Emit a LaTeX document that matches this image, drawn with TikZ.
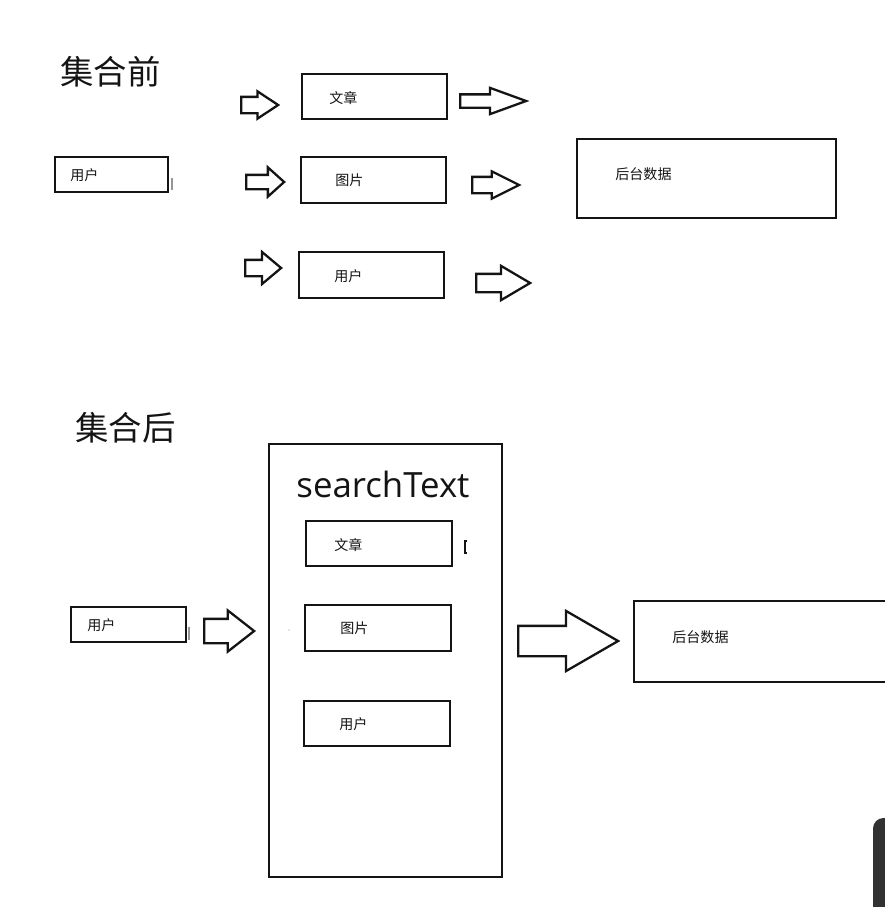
\documentclass[tikz,border=0pt]{standalone}
\usepackage{fontspec}
\setmainfont{Noto Sans CJK SC}
\newfontfamily\cjk{Noto Sans CJK SC}
\newfontfamily\latinsans{Open Sans}
\usepackage{tikz}
\usetikzlibrary{shapes.arrows, positioning, calc}
\definecolor{mydark}{RGB}{20,20,20}
\definecolor{mymark}{RGB}{150,150,150}
\definecolor{mypanel}{RGB}{50,50,52}
\tikzset{
  box/.style={rectangle, draw=mydark, fill=white, line width=1.4pt, inner sep=0pt},
  txt/.style={font=\cjk\fontsize{8}{10}\selectfont, anchor=west, inner sep=0pt, text=mydark},
  heading/.style={font=\cjk\fontsize{19}{22}\selectfont, anchor=west, inner sep=0pt, text=mydark},
  barrow/.style={single arrow, draw=mydark, fill=white, line width=1.3pt, inner xsep=0pt, anchor=tail}
}
\begin{document}
\begin{tikzpicture}[x=0.02cm, y=-0.02cm]
\useasboundingbox (0,0) rectangle (885,907);

% before
\node[heading] (t1) at (60,72) {集合前};
\node[box, minimum width=2.26cm, minimum height=0.70cm] (u0) at (111.5,174.5) {};
\node[txt] (u0t) at (70,175) {用户};

\node[box, minimum width=2.9cm, minimum height=0.9cm] (w1) at (374.5,96.5) {};
\node[txt] (w1t) at (329,98) {文章};
\node[box, minimum width=2.9cm, minimum height=0.92cm] (p1) at (373.5,180) {};
\node[txt] (p1t) at (335,180) {图片};
\node[box, minimum width=2.9cm, minimum height=0.92cm] (u1) at (371.5,275) {};
\node[txt] (u1t) at (334,276) {用户};

\node[box, minimum width=5.18cm, minimum height=1.58cm] (db1) at (706.5,178.5) {};
\node[txt] (db1t) at (615,174) {后台数据};

\node[barrow, minimum height=0.74cm, inner ysep=0.14cm, single arrow head extend=0.11cm, single arrow tip angle=67] (a1) at (240,105) {};
\node[barrow, minimum height=0.76cm, inner ysep=0.12cm, single arrow head extend=0.15cm, single arrow tip angle=84] (a2) at (245,182) {};
\node[barrow, minimum height=0.72cm, inner ysep=0.14cm, single arrow head extend=0.16cm, single arrow tip angle=80] (a3) at (244,268) {};

\node[barrow, minimum height=1.32cm, inner ysep=0.11cm, single arrow head extend=0.13cm, single arrow tip angle=40] (b1) at (459,101) {};
\node[barrow, minimum height=0.94cm, inner ysep=0.14cm, single arrow head extend=0.11cm, single arrow tip angle=53] (b2) at (471,185) {};
\node[barrow, minimum height=1.08cm, inner ysep=0.16cm, single arrow head extend=0.16cm, single arrow tip angle=61] (b3) at (475,283) {};

% after
\node[heading] (t2) at (75,428) {集合后};
\node[box, minimum width=2.3cm, minimum height=0.70cm] (u2) at (128.5,624.5) {};
\node[txt] (u2t) at (87,625) {用户};

\node[box, minimum width=4.66cm, minimum height=8.66cm] (st) at (385.5,660.5) {};
\node[font=\latinsans\fontsize{19.8}{22}\selectfont, inner sep=0pt, text=mydark] (stt) at (383,484) {searchText};
\node[box, minimum width=2.92cm, minimum height=0.9cm] (w2) at (379,543.5) {};
\node[txt] (w2t) at (334,545) {文章};
\node[box, minimum width=2.92cm, minimum height=0.92cm] (p2) at (378,628) {};
\node[txt] (p2t) at (340,628) {图片};
\node[box, minimum width=2.92cm, minimum height=0.9cm] (u3) at (377,723.5) {};
\node[txt] (u3t) at (339,724) {用户};

\node[box, minimum width=5.18cm, minimum height=1.62cm] (db2) at (763.5,641.5) {};
\node[txt] (db2t) at (672,637) {后台数据};

\node[barrow, minimum height=1.0cm, inner ysep=0.22cm, single arrow head extend=0.17cm, single arrow tip angle=76] (c1) at (203,631) {};
\node[barrow, minimum height=2.0cm, inner ysep=0.28cm, single arrow head extend=0.30cm, single arrow tip angle=60] (c2) at (517,641) {};

% stray marks
\draw[mymark, line width=0.6pt] (172,178) -- (172,190);
\draw[mymark, line width=0.6pt] (189,627) -- (189,640);
\draw[mydark, line width=1.2pt] (467,541) -- (465,541) -- (465,553) -- (467,553);
\fill[mymark] (289,630) circle (0.6);
\fill[mypanel, rounded corners=6pt] (873,818) rectangle (905,925);
\end{tikzpicture}
\end{document}
